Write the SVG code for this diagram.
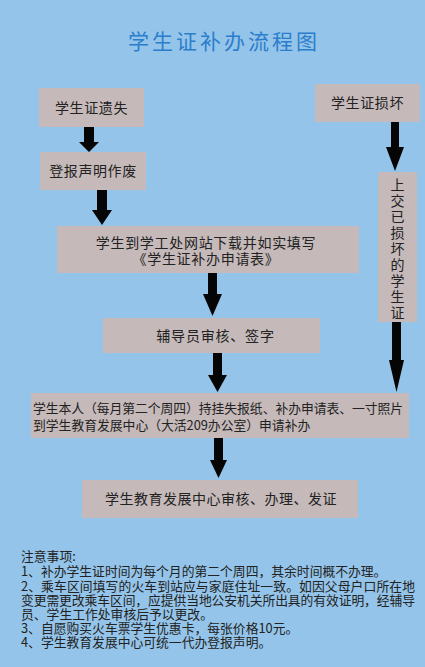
<svg xmlns="http://www.w3.org/2000/svg" width="425" height="667" viewBox="0 0 425 667">
<style>
.bg{fill:#94c4e9}
.box{fill:#c5b9b9}
.t{font-family:"Noto Sans CJK SC","Noto Sans",sans-serif;fill:#222;font-size:14px}
.c{text-anchor:middle}
.s{font-size:12.8px}
.arr{fill:#050505}
.title{font-family:"Noto Sans CJK SC",sans-serif;fill:#2b7ecb;font-size:21px;letter-spacing:3px;text-anchor:middle}
</style>
<rect class="bg" x="0" y="0" width="425" height="667"/>
<text class="title" x="224" y="49">学生证补办流程图</text>
<g id="connectors">
<polygon class="arr" points="84,127 94,127 94,142 99,142 89,152 79,142 84,142"/>
<polygon class="arr" points="97,190 107,190 107,210 112,210 102,225 92,210 97,210"/>
<polygon class="arr" points="208,273 217,273 217,294 222,294 212.5,316 203,294 208,294"/>
<polygon class="arr" points="213,353 222,353 222,375 227,375 217.5,392 208,375 213,375"/>
<polygon class="arr" points="214,438 223,438 223,460 227,460 218.5,478 210,460 214,460"/>
<polygon class="arr" points="391,122 399,122 399,147 404,147 395,171 386,147 391,147"/>
<polygon class="arr" points="392,322 401,322 401,360 404,360 396.5,392 389,360 392,360"/>
</g>
<g id="n1"><rect class="box" x="39" y="88" width="105" height="39"/><text class="t c" x="91.5" y="112.5" letter-spacing="0.6">学生证遗失</text></g>
<g id="n2"><rect class="box" x="315" y="84" width="105" height="38"/><text class="t c" x="367.5" y="108" letter-spacing="0.6">学生证损坏</text></g>
<g id="n3"><rect class="box" x="40" y="152" width="106" height="38"/><text class="t c" x="93" y="176" letter-spacing="0.6">登报声明作废</text></g>
<g id="n4"><rect class="box" x="57" y="226" width="302" height="47"/><text class="t c" x="206" y="248" letter-spacing="0.7">学生到学工处网站下载并如实填写</text><text class="t c" x="206" y="264" letter-spacing="0.7">《学生证补办申请表》</text></g>
<g id="n5"><rect class="box" x="378" y="172" width="39" height="150"/><text class="t c" x="397.5" font-size="15"><tspan x="397.5" y="190">上</tspan><tspan x="397.5" y="206">交</tspan><tspan x="397.5" y="222">已</tspan><tspan x="397.5" y="238">损</tspan><tspan x="397.5" y="254">坏</tspan><tspan x="397.5" y="270">的</tspan><tspan x="397.5" y="286">学</tspan><tspan x="397.5" y="302">生</tspan><tspan x="397.5" y="318">证</tspan></text></g>
<g id="n6"><rect class="box" x="103" y="318" width="217" height="35"/><text class="t c" x="215.5" y="340.5" letter-spacing="0.8">辅导员审核、签字</text></g>
<g id="n7"><rect class="box" x="31" y="393" width="378" height="45"/><text class="t s" x="33" y="413" textLength="370" lengthAdjust="spacing">学生本人（每月第二个周四）持挂失报纸、补办申请表、一寸照片</text><text class="t s" x="33" y="430">到学生教育发展中心（大活209办公室）申请补办</text></g>
<g id="n8"><rect class="box" x="82" y="480" width="276" height="38"/><text class="t c" x="221" y="504" font-size="14.5" letter-spacing="0.5">学生教育发展中心审核、办理、发证</text></g>
<g id="notes">
<text class="t s" x="21" y="561">注意事项:</text>
<text class="t s" x="21" y="576">1、补办学生证时间为每个月的第二个周四，其余时间概不办理。</text>
<text class="t s" x="21" y="591" textLength="394" lengthAdjust="spacing">2、乘车区间填写的火车到站应与家庭住址一致。如因父母户口所在地</text>
<text class="t s" x="21" y="605" textLength="394" lengthAdjust="spacing">变更需更改乘车区间，应提供当地公安机关所出具的有效证明，经辅导</text>
<text class="t s" x="21" y="619">员、学生工作处审核后予以更改。</text>
<text class="t s" x="21" y="633">3、自愿购买火车票学生优惠卡，每张价格10元。</text>
<text class="t s" x="21" y="647">4、学生教育发展中心可统一代办登报声明。</text>
</g>
</svg>
